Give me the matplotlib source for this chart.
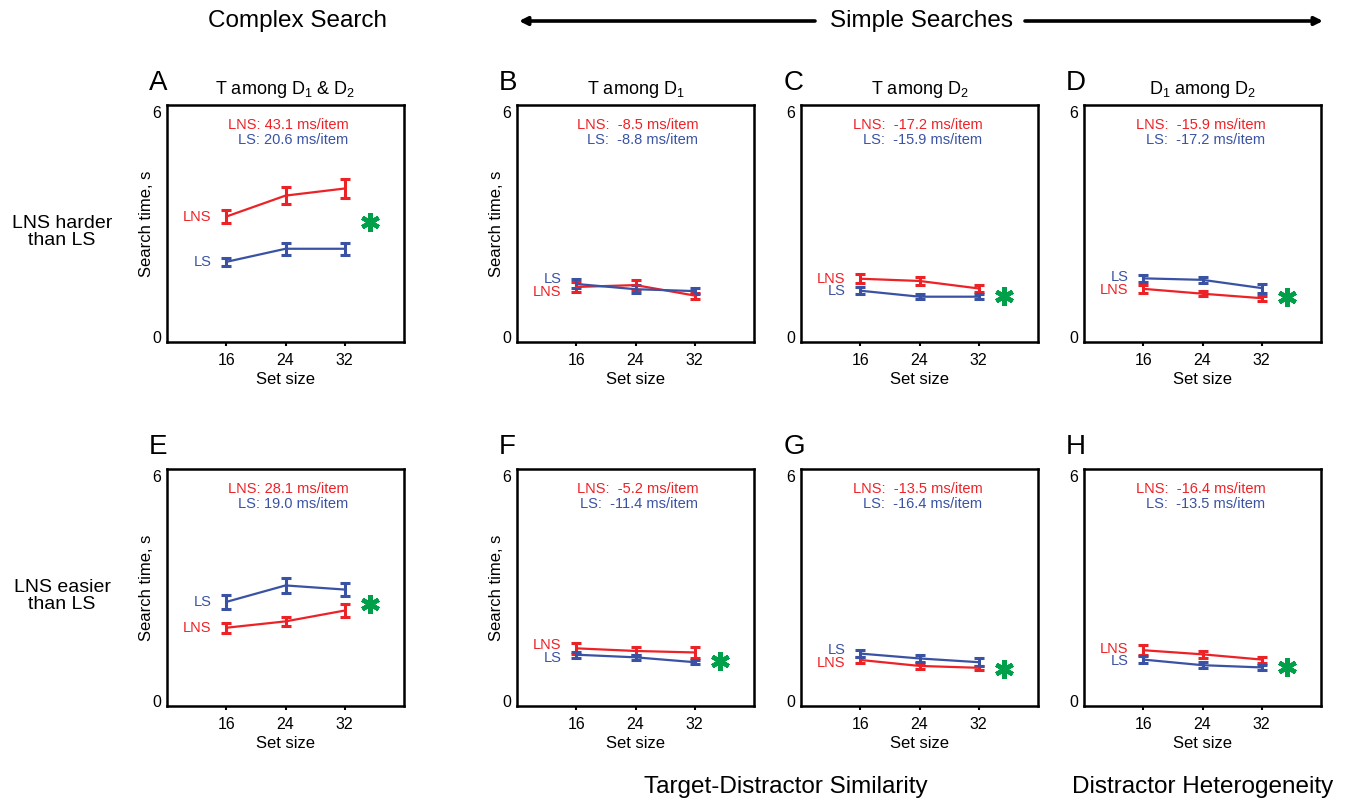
import matplotlib
matplotlib.use("Agg")
import matplotlib.pyplot as plt
import numpy as np

plt.rcParams['font.family'] = ['Liberation Sans', 'DejaVu Sans']
plt.rcParams['mathtext.fontset'] = 'custom'
plt.rcParams['mathtext.rm'] = 'Liberation Sans'

red = '#ec2227'
blue = '#3a52a3'
green = '#00a04b'

set_sizes = [16, 24, 32]
panel_letters = ['A', 'B', 'C', 'D', 'E', 'F', 'G', 'H']
subtitles = ['T among D$_\\mathregular{1}$ & D$_\\mathregular{2}$', 'T among D$_\\mathregular{1}$',
             'T among D$_\\mathregular{2}$', 'D$_\\mathregular{1}$ among D$_\\mathregular{2}$', '', '', '', '']

lns_mean = [[3.22, 3.78, 3.97], [1.34, 1.39, 1.11], [1.56, 1.50, 1.30], [1.29, 1.16, 1.04],
            [1.96, 2.13, 2.42], [1.41, 1.34, 1.30], [1.10, 0.94, 0.89], [1.36, 1.25, 1.11]]
lns_err = [[0.18, 0.22, 0.25], [0.13, 0.13, 0.08], [0.12, 0.10, 0.10], [0.10, 0.07, 0.07],
           [0.13, 0.12, 0.17], [0.15, 0.10, 0.15], [0.09, 0.08, 0.06], [0.13, 0.10, 0.08]]
ls_mean = [[2.01, 2.36, 2.36], [1.42, 1.28, 1.23], [1.24, 1.08, 1.08], [1.57, 1.53, 1.31],
           [2.65, 3.09, 2.98], [1.24, 1.17, 1.04], [1.27, 1.14, 1.04], [1.11, 0.96, 0.90]]
ls_err = [[0.10, 0.16, 0.16], [0.12, 0.10, 0.07], [0.10, 0.07, 0.07], [0.10, 0.08, 0.12],
          [0.18, 0.19, 0.18], [0.08, 0.07, 0.05], [0.10, 0.10, 0.10], [0.10, 0.08, 0.07]]
lns_slope = ['LNS: 43.1 ms/item', 'LNS:  -8.5 ms/item', 'LNS:  -17.2 ms/item', 'LNS:  -15.9 ms/item',
             'LNS: 28.1 ms/item', 'LNS:  -5.2 ms/item', 'LNS:  -13.5 ms/item', 'LNS:  -16.4 ms/item']
ls_slope = ['LS: 20.6 ms/item', 'LS:  -8.8 ms/item', 'LS:  -15.9 ms/item', 'LS:  -17.2 ms/item',
            'LS: 19.0 ms/item', 'LS:  -11.4 ms/item', 'LS:  -16.4 ms/item', 'LS:  -13.5 ms/item']
significant = [True, False, True, True, True, True, True, True]

W, H = 1348, 802
fig = plt.figure(figsize=(W / 100, H / 100), dpi=100)

col_left = [167, 517, 801, 1084]
row_bottom = [342, 706]
size = 237

for i in range(8):
    r, c = divmod(i, 4)
    ax = fig.add_axes([col_left[c] / W, 1 - row_bottom[r] / H, size / W, size / H])
    for mean, err, col in [(lns_mean[i], lns_err[i], red), (ls_mean[i], ls_err[i], blue)]:
        ax.errorbar(set_sizes, mean, yerr=err, color=col, lw=1.6, elinewidth=2.2,
                    capsize=3.5, capthick=2.2)
    ax.set_xlim(8, 40)
    ax.set_ylim(-0.13, 6.2)
    ax.set_xticks(set_sizes)
    ax.set_yticks([0, 6])
    ax.tick_params(axis='y', length=0, pad=4, labelsize=11.5)
    ax.tick_params(axis='x', length=3, width=1.5, direction='out', pad=5, labelsize=11.5)
    for s in ax.spines.values():
        s.set_linewidth(1.8)
    ax.set_xlabel('Set size', fontsize=12, labelpad=3)
    if c < 2:
        ax.set_ylabel('Search time, s', fontsize=12)
        ax.yaxis.set_label_coords(-0.055, 0.5)

    ax.text(0.765, 0.916, lns_slope[i], color=red, ha='right', va='center',
            fontsize=10.5, transform=ax.transAxes)
    ax.text(0.765, 0.852, ls_slope[i], color=blue, ha='right', va='center',
            fontsize=10.5, transform=ax.transAxes)

    # series labels, pushed apart when the first points are close together
    y_lns, y_ls = lns_mean[i][0], ls_mean[i][0]
    if abs(y_lns - y_ls) < 0.3:
        mid = (y_lns + y_ls) / 2
        sgn = 1 if y_lns > y_ls else -1
        y_lns, y_ls = mid + sgn * 0.17, mid - sgn * 0.17
    ax.text(14.0, y_lns, 'LNS', color=red, ha='right', va='center', fontsize=10.5)
    ax.text(14.0, y_ls, 'LS', color=blue, ha='right', va='center', fontsize=10.5)

    if significant[i]:
        star_y = (lns_mean[i][-1] + ls_mean[i][-1]) / 2 - 0.1
        ax.plot([35.4], [star_y], marker=(6, 2, 0), ms=13.5, mew=3.2, color=green)

    ax.text(-0.075, 1.063, panel_letters[i], transform=ax.transAxes, fontsize=20,
            ha='left', va='baseline')
    if subtitles[i]:
        ax.set_title(subtitles[i], fontsize=13, pad=8)

# headers
fig.text(297 / W, 1 - 21 / H, 'Complex Search', fontsize=17.5, ha='center', va='center')
fig.text(921 / W, 1 - 21 / H, 'Simple Searches', fontsize=17.5, ha='center', va='center')
arrow = dict(arrowstyle='-|>', color='black', lw=2.6, mutation_scale=12, shrinkA=0, shrinkB=0)
fig.patches.append(matplotlib.patches.FancyArrowPatch((815 / W, 1 - 21 / H), (519 / W, 1 - 21 / H),
                                                      transform=fig.transFigure, **arrow))
fig.patches.append(matplotlib.patches.FancyArrowPatch((1025 / W, 1 - 21 / H), (1323 / W, 1 - 21 / H),
                                                      transform=fig.transFigure, **arrow))

fig.text(62 / W, 1 - 232 / H, 'LNS harder\nthan LS', fontsize=14, ha='center', va='center',
         linespacing=1.0)
fig.text(62 / W, 1 - 596 / H, 'LNS easier\nthan LS', fontsize=14, ha='center', va='center',
         linespacing=1.0)

fig.text(786 / W, 1 - 787 / H, 'Target-Distractor Similarity', fontsize=17.5, ha='center', va='center')
fig.text(1203 / W, 1 - 787 / H, 'Distractor Heterogeneity', fontsize=17.5, ha='center', va='center')

fig.savefig('out.png', dpi=100)
